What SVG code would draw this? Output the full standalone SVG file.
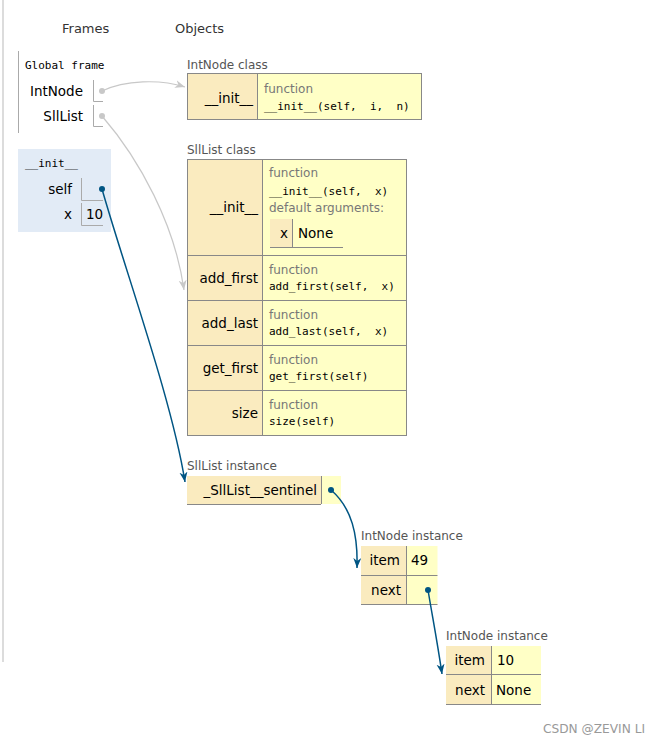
<svg xmlns="http://www.w3.org/2000/svg" width="660" height="743" viewBox="0 0 660 743">
<style>
.hdr{font-family:"DejaVu Sans",Verdana,sans-serif;font-size:13px;fill:#333}
.tl{font-family:"DejaVu Sans",Verdana,sans-serif;font-size:12px;fill:#555}
.k{font-family:"DejaVu Sans",Verdana,sans-serif;font-size:13.5px;fill:#000;text-anchor:end}
.v{font-family:"DejaVu Sans",Verdana,sans-serif;font-size:13.5px;fill:#000}
.fn{font-family:"DejaVu Sans",Verdana,sans-serif;font-size:12px;fill:#777}
.mono{font-family:"DejaVu Sans Mono","Liberation Mono",monospace;font-size:11px;fill:#000;white-space:pre}
.tan{fill:#faebbf}
.yel{fill:#ffffc6}
.bd{fill:none;stroke:#888;stroke-width:1}
.fb{fill:none;stroke:#aaa;stroke-width:1}
.gray{fill:none;stroke:#c8c8c8;stroke-width:1.2}
.blue{fill:none;stroke:#005583;stroke-width:1.5}
.wm{font-family:"DejaVu Sans",Verdana,sans-serif;font-size:12px;fill:#999}
</style>
<defs>
<marker id="ag" markerUnits="userSpaceOnUse" markerWidth="11" markerHeight="9" refX="10" refY="4" orient="auto" viewBox="0 0 11 9">
<path d="M0,0 L10,4 L0,8 L3,4 Z" fill="#c8c8c8"/>
</marker>
<marker id="ab" markerUnits="userSpaceOnUse" markerWidth="11" markerHeight="9" refX="10" refY="4" orient="auto" viewBox="0 0 11 9">
<path d="M0,0 L10,4 L0,8 L3,4 Z" fill="#005583"/>
</marker>
</defs>
<rect width="660" height="743" fill="#fff"/>
<line x1="3" y1="0" x2="3" y2="662" stroke="#d0d0d0" stroke-width="1.5"/>
<text class="hdr" x="62" y="33">Frames</text>
<text class="hdr" x="175" y="33">Objects</text>

<g id="global-frame">
<line x1="18.5" y1="51" x2="18.5" y2="133" stroke="#aaa"/>
<text class="mono" x="25" y="69">Global frame</text>
<text class="k" x="83" y="96">IntNode</text>
<path class="fb" d="M93.5,80 V101.5 H103"/>
<circle cx="102" cy="91" r="3" fill="#c8c8c8"/>
<text class="k" x="83" y="121">SllList</text>
<path class="fb" d="M93.5,105 V126.5 H103"/>
<circle cx="102" cy="116" r="3" fill="#c8c8c8"/>
</g>

<g id="init-frame">
<rect x="18" y="149" width="93" height="83" fill="#e2ebf6"/>
<text class="mono" x="25" y="167">__init__</text>
<text class="k" x="72" y="194">self</text>
<path class="fb" d="M81.5,178 V200.5 H103"/>
<text class="k" x="72" y="219">x</text>
<path class="fb" d="M81.5,203 V225.5 H103"/>
<text class="v" x="86" y="219">10</text>
</g>

<g id="intnode-class">
<text class="tl" x="187" y="69">IntNode class</text>
<rect class="tan" x="187.5" y="73.5" width="70" height="46"/>
<rect class="yel" x="257.5" y="73.5" width="164" height="46"/>
<rect class="bd" x="187.5" y="73.5" width="234" height="46"/>
<line x1="257.5" y1="73.5" x2="257.5" y2="119.5" stroke="#888"/>
<text class="k" x="253" y="103">__init__</text>
<text class="fn" x="264" y="93">function</text>
<text class="mono" x="264" y="110">__init__(self,  i,  n)</text>
</g>

<g id="slllist-class">
<text class="tl" x="187" y="154">SllList class</text>
<rect class="tan" x="187.5" y="159.5" width="75" height="276"/>
<rect class="yel" x="262.5" y="159.5" width="144" height="276"/>
<rect class="bd" x="187.5" y="159.5" width="219" height="276"/>
<line x1="262.5" y1="159.5" x2="262.5" y2="435.5" stroke="#888"/>
<line x1="187.5" y1="255.5" x2="406.5" y2="255.5" stroke="#888"/>
<line x1="187.5" y1="300.5" x2="406.5" y2="300.5" stroke="#888"/>
<line x1="187.5" y1="345.5" x2="406.5" y2="345.5" stroke="#888"/>
<line x1="187.5" y1="390.5" x2="406.5" y2="390.5" stroke="#888"/>
<text class="k" x="258" y="212">__init__</text>
<text class="fn" x="269" y="177">function</text>
<text class="mono" x="269" y="195">__init__(self,  x)</text>
<text class="fn" x="269" y="212">default arguments:</text>
<rect class="tan" x="270" y="219" width="22.5" height="28"/>
<line x1="292.5" y1="219" x2="292.5" y2="247" stroke="#888"/>
<line x1="270" y1="247.5" x2="343" y2="247.5" stroke="#888"/>
<text class="k" x="288" y="238">x</text>
<text class="v" x="298" y="238">None</text>
<text class="k" x="258" y="283">add_first</text>
<text class="fn" x="269" y="274">function</text>
<text class="mono" x="269" y="290">add_first(self,  x)</text>
<text class="k" x="258" y="328">add_last</text>
<text class="fn" x="269" y="319">function</text>
<text class="mono" x="269" y="335">add_last(self,  x)</text>
<text class="k" x="258" y="373">get_first</text>
<text class="fn" x="269" y="364">function</text>
<text class="mono" x="269" y="380">get_first(self)</text>
<text class="k" x="258" y="418">size</text>
<text class="fn" x="269" y="409">function</text>
<text class="mono" x="269" y="425">size(self)</text>
</g>

<g id="slllist-instance">
<text class="tl" x="187" y="470">SllList instance</text>
<rect class="tan" x="187" y="476" width="134" height="28"/>
<rect class="yel" x="321" y="476" width="20" height="28"/>
<line x1="187" y1="504.5" x2="321" y2="504.5" stroke="#888"/>
<line x1="321.5" y1="476" x2="321.5" y2="504" stroke="#888"/>
<text class="k" x="317" y="495">_SllList__sentinel</text>
<circle cx="331" cy="490" r="3" fill="#005583"/>
</g>

<g id="intnode-instance-1">
<text class="tl" x="361" y="540">IntNode instance</text>
<rect class="tan" x="361" y="546" width="45" height="29"/>
<rect class="yel" x="406" y="546" width="31.5" height="29"/>
<rect class="tan" x="361" y="576" width="45" height="28.5"/>
<rect class="yel" x="406" y="576" width="31.5" height="28.5"/>
<line x1="361" y1="575.5" x2="437.5" y2="575.5" stroke="#888"/>
<line x1="361" y1="604.5" x2="437.5" y2="604.5" stroke="#888"/>
<line x1="406.5" y1="546" x2="406.5" y2="604" stroke="#888"/>
<text class="k" x="400" y="565">item</text>
<text class="v" x="411" y="565">49</text>
<text class="k" x="401" y="595">next</text>
<circle cx="428" cy="590" r="3" fill="#005583"/>
</g>

<g id="intnode-instance-2">
<text class="tl" x="446" y="640">IntNode instance</text>
<rect class="tan" x="446" y="646" width="45" height="28"/>
<rect class="yel" x="491" y="646" width="50" height="28"/>
<rect class="tan" x="446" y="675" width="45" height="29"/>
<rect class="yel" x="491" y="675" width="50" height="29"/>
<line x1="446" y1="674.5" x2="541" y2="674.5" stroke="#888"/>
<line x1="446" y1="704.5" x2="541" y2="704.5" stroke="#888"/>
<line x1="491.5" y1="646" x2="491.5" y2="704" stroke="#888"/>
<text class="k" x="485" y="665">item</text>
<text class="v" x="497" y="665">10</text>
<text class="k" x="485" y="695">next</text>
<text class="v" x="496" y="695">None</text>
</g>

<g id="connectors">
<path class="gray" d="M102,91 C125,80 160,79 185,87" marker-end="url(#ag)"/>
<path class="gray" d="M102,116 C140,160 175,225 184,290" marker-end="url(#ag)"/>
<circle cx="102" cy="189" r="3" fill="#005583"/>
<path class="blue" d="M102,189 C125,270 172,400 185,482" marker-end="url(#ab)"/>
<path class="blue" d="M331,490 C352,508 358,535 357,568" marker-end="url(#ab)"/>
<path class="blue" d="M428,590 C433,620 437,640 442,674" marker-end="url(#ab)"/>
</g>

<text class="wm" x="543" y="733" textLength="102" lengthAdjust="spacingAndGlyphs">CSDN @ZEVIN LI</text>
</svg>
